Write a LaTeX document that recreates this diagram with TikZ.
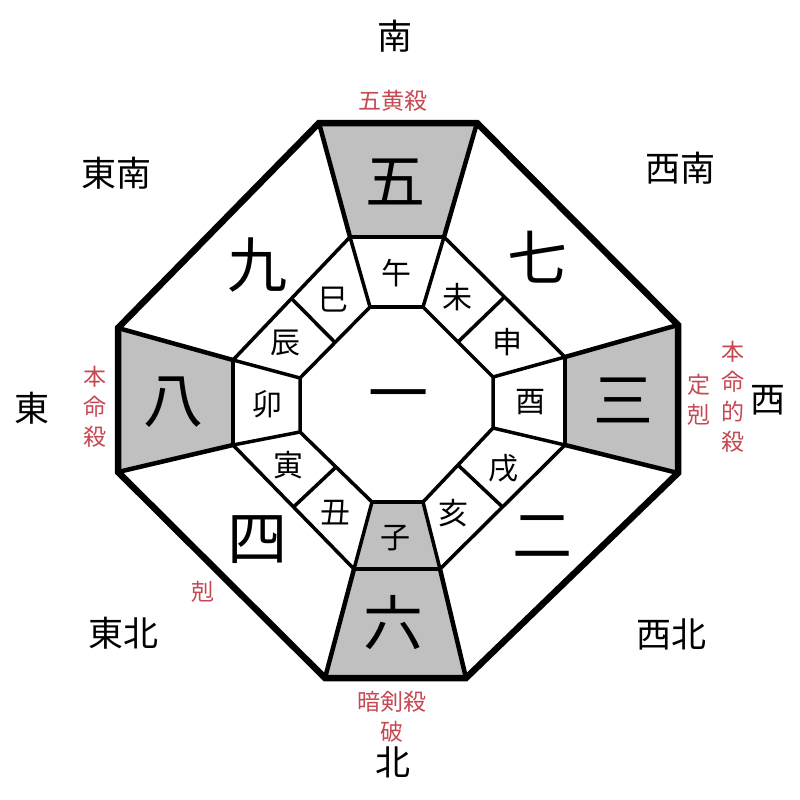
\documentclass[tikz,border=0pt]{standalone}
\usepackage{fontspec}
\setmainfont{Noto Sans CJK JP}
\usetikzlibrary{calc}
\definecolor{szary}{RGB}{192,192,192}
\definecolor{czerw}{RGB}{198,72,82}

\begin{document}
\begin{tikzpicture}[x=1pt, y=-1pt,
		cienka/.style = {line width=3.5pt},
		srednia/.style = {line width=4.5pt},
		gruba/.style = {line width=6.5pt},
		liczba/.style = {font=\fontsize{60}{60}\selectfont},
		znak/.style = {font=\fontsize{30}{30}\selectfont},
		strona/.style = {font=\fontsize{35}{35}\selectfont},
		uwaga/.style = {text=czerw, align=center, font=\fontsize{23}{30}\selectfont}]
		\useasboundingbox (0,0) rectangle (800,800);
		
		% osmiokat zewnetrzny
		\coordinate (o1) at (319,123); \coordinate (o2) at (477,123);
		\coordinate (o3) at (678,325); \coordinate (o4) at (678,473);
		\coordinate (o5) at (466,678); \coordinate (o6) at (325,678);
		\coordinate (o7) at (118,472); \coordinate (o8) at (118,328);
		% osmiokat srodkowy
		\coordinate (m1) at (350,237); \coordinate (m2) at (444,237);
		\coordinate (m3) at (565,357); \coordinate (m4) at (565,445);
		\coordinate (m5) at (440,569); \coordinate (m6) at (354,569);
		\coordinate (m7) at (233,445); \coordinate (m8) at (233,360);
		% osmiokat wewnetrzny
		\coordinate (i1) at (370,307); \coordinate (i2) at (423,307);
		\coordinate (i3) at (493,377); \coordinate (i4) at (493,428);
		\coordinate (i5) at (423,502); \coordinate (i6) at (372,502);
		\coordinate (i7) at (300,432); \coordinate (i8) at (300,378);
		
		% szare pola
		\fill[szary] (o1) -- (o2) -- (m2) -- (m1) -- cycle;
		\fill[szary] (o3) -- (o4) -- (m4) -- (m3) -- cycle;
		\fill[szary] (m6) -- (m5) -- (o5) -- (o6) -- cycle;
		\fill[szary] (o8) -- (m8) -- (m7) -- (o7) -- cycle;
		\fill[szary] (i6) -- (i5) -- (m5) -- (m6) -- cycle;
		
		\draw[cienka] (i1) -- (i2) -- (i3) -- (i4) -- (i5) -- (i6) -- (i7) -- (i8) -- cycle;
		\draw[cienka] (m2) -- (m3) (m4) -- (m5) (m6) -- (m7) (m8) -- (m1);
		\draw[cienka] (i1) -- (m1) (i2) -- (m2) (i3) -- (m3) (i4) -- (m4)
			(i5) -- (m5) (i6) -- (m6) (i7) -- (m7) (i8) -- (m8);
		\draw[cienka] ($(i2)!0.5!(i3)$) -- ($(m2)!0.5!(m3)$);
		\draw[cienka] ($(i4)!0.5!(i5)$) -- ($(m4)!0.5!(m5)$);
		\draw[cienka] ($(i6)!0.5!(i7)$) -- ($(m6)!0.5!(m7)$);
		\draw[cienka] ($(i8)!0.5!(i1)$) -- ($(m8)!0.5!(m1)$);
		\draw[srednia] (m1) -- (m2) (m3) -- (m4) (m5) -- (m6) (m7) -- (m8)
			(i1) -- (i2) (i5) -- (i6);
		\draw[srednia] (m1) -- (o1) (m2) -- (o2) (m3) -- (o3) (m4) -- (o4)
			(m5) -- (o5) (m6) -- (o6) (m7) -- (o7) (m8) -- (o8);
		\draw[gruba] (o1) -- (o2) -- (o3) -- (o4) -- (o5) -- (o6) -- (o7) -- (o8) -- cycle;
		
		% gwiazdy
		\node[liczba] (g1) at (398,403) {一};
		\node[liczba] (g5) at (395,182) {五};
		\node[liczba] (g7) at (537,257) {七};
		\node[liczba] (g3) at (623,400) {三};
		\node[liczba] (g2) at (542,537) {二};
		\node[liczba] (g6) at (393,623) {六};
		\node[liczba] (g4) at (257,540) {四};
		\node[liczba] (g8) at (173,402) {八};
		\node[liczba] (g9) at (257,265) {九};
		
		% dwanascie znakow
		\node[znak] (uma) at (396,273) {午};
		\node[znak] (hitsuji) at (457,297) {未};
		\node[znak] (saru) at (507,342) {申};
		\node[znak] (tori) at (530,402) {酉};
		\node[znak] (inu) at (503,468) {戌};
		\node[znak] (i) at (453,513) {亥};
		\node[znak] (ne) at (395,538) {子};
		\node[znak] (ushi) at (335,513) {丑};
		\node[znak] (tora) at (288,465) {寅};
		\node[znak] (u) at (267,404) {卯};
		\node[znak] (tatsu) at (285,343) {辰};
		\node[znak] (mi) at (333,300) {巳};
		
		% strony swiata
		\node[strona] (nan) at (395,36) {南};
		\node[strona] (hoku) at (393,762) {北};
		\node[strona] (tou) at (32,408) {東};
		\node[strona] (sei) at (768,400) {西};
		\node[strona] (tounan) at (116,173) {東南};
		\node[strona] (seinan) at (680,168) {西南};
		\node[strona] (touhoku) at (123,633) {東北};
		\node[strona] (seihoku) at (671,634) {西北};
		
		% napisy czerwone
		\node[uwaga] (gooh) at (393,101) {五黄殺};
		\node[uwaga] (honmei) at (95,407) {本\\命\\殺};
		\node[uwaga] (honmeiteki) at (733,397) {本\\命\\的\\殺};
		\node[uwaga] (teikoku) at (699,400) {定\\剋};
		\node[uwaga] (koku) at (203,592) {剋};
		\node[uwaga] (anken) at (392,717) {暗剣殺\\破};
	\end{tikzpicture}
\end{document}
